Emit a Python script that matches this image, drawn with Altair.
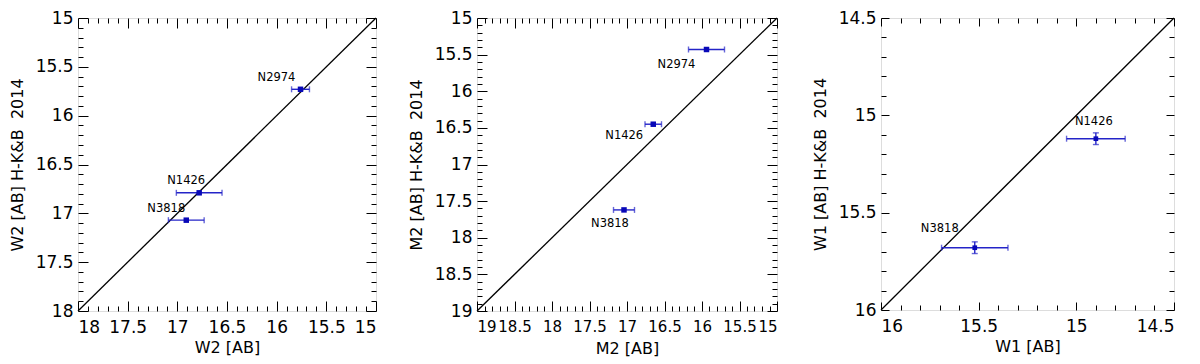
import altair as alt
import pandas as pd

# ---------------- data ----------------
# Panel 1: W2
w2_names = ["N2974", "N1426", "N3818"]
w2_x = [15.76, 16.78, 16.91]
w2_xerr = [0.09, 0.23, 0.18]
w2_y = [15.73, 16.79, 17.07]
w2_yerr = [0.0, 0.0, 0.0]
w2_domain = [15.0, 18.0]
w2_major = [15, 15.5, 16, 16.5, 17, 17.5, 18]

# Panel 2: M2
m2_names = ["N2974", "N1426", "N3818"]
m2_x = [15.94, 16.65, 17.04]
m2_xerr = [0.24, 0.11, 0.14]
m2_y = [15.43, 16.45, 17.62]
m2_yerr = [0.0, 0.0, 0.0]
m2_domain = [15.0, 19.0]
m2_major = [15, 15.5, 16, 16.5, 17, 17.5, 18, 18.5, 19]

# Panel 3: W1
w1_names = ["N1426", "N3818"]
w1_x = [14.90, 15.52]
w1_xerr = [0.15, 0.17]
w1_y = [15.12, 15.68]
w1_yerr = [0.03, 0.03]
w1_domain = [14.5, 16.0]
w1_major = [14.5, 15, 15.5, 16]

FONT = "DejaVu Sans"
BAR = "#2424c8"
PT = "#0808b8"


def minors_for(domain, major):
    lo, hi = domain
    n = int(round((hi - lo) / 0.1))
    vals = [round(lo + 0.1 * i, 1) for i in range(n + 1)]
    return [v for v in vals if v not in major]


def ax(orient, values, length, labels=False, title="", lsize=17):
    kw = dict(orient=orient, values=values, tickSize=length, offset=-length,
              domain=False, grid=False, ticks=True, tickColor="black",
              tickWidth=1, labels=labels, title=title)
    if labels:
        kw.update(format="~g", labelFont=FONT, labelFontSize=lsize,
                  labelColor="black", labelOverlap=False,
                  labelPadding=8 if orient == "bottom" else 5,
                  titleFont=FONT, titleFontSize=16, titleFontWeight="normal",
                  titleColor="black",
                  titlePadding=(4 + 17 - lsize) if orient == "bottom" else 10)
    return alt.Axis(**kw)


def panel(names, xs, xerrs, ys, yerrs, domain, major, width, height,
          xtitle, ytitle, maj_len, min_len, offsets, msize, yerr_bars, xlsize):
    df = pd.DataFrame({"name": names, "x": xs, "y": ys})
    df["xlo"] = [a - b for a, b in zip(xs, xerrs)]
    df["xhi"] = [a + b for a, b in zip(xs, xerrs)]
    df["ylo"] = [a - b for a, b in zip(ys, yerrs)]
    df["yhi"] = [a + b for a, b in zip(ys, yerrs)]
    line_df = pd.DataFrame({"x": [domain[0], domain[1]], "y": [domain[0], domain[1]]})
    minor = minors_for(domain, major)

    xs_ = alt.Scale(domain=domain, reverse=True, nice=False, zero=False)
    ys_ = alt.Scale(domain=domain, reverse=True, nice=False, zero=False)

    def X(f, axis):
        return alt.X(f, type="quantitative", scale=xs_, axis=axis)

    def Y(f, axis):
        return alt.Y(f, type="quantitative", scale=ys_, axis=axis)

    line = alt.Chart(line_df).mark_line(color="black", strokeWidth=1.3).encode(
        x=X("x", ax("bottom", major, maj_len, True, xtitle, xlsize)),
        y=Y("y", ax("left", major, maj_len, True, ytitle)),
    )
    xbar = alt.Chart(df).mark_rule(color=BAR, strokeWidth=1.4).encode(
        x=X("xlo", ax("bottom", minor, min_len)),
        x2="xhi",
        y=Y("y", ax("left", minor, min_len)),
    )
    cap_lo = alt.Chart(df).mark_tick(orient="vertical", size=6, thickness=1.4, color=BAR).encode(
        x=X("xlo", ax("top", major, maj_len)),
        y=Y("y", ax("right", major, maj_len)),
    )
    cap_hi = alt.Chart(df).mark_tick(orient="vertical", size=6, thickness=1.4, color=BAR).encode(
        x=X("xhi", ax("top", minor, min_len)),
        y=Y("y", ax("right", minor, min_len)),
    )
    pts = alt.Chart(df).mark_square(size=msize, color=PT, opacity=1).encode(
        x=X("x", None), y=Y("y", None)
    )
    layers = [line, xbar, cap_lo, cap_hi]
    if yerr_bars:
        layers.append(alt.Chart(df).mark_rule(color=BAR, strokeWidth=1.4).encode(
            x=X("x", None), y=Y("ylo", None), y2="yhi"))
        for f in ["ylo", "yhi"]:
            layers.append(alt.Chart(df).mark_tick(orient="horizontal", size=6, thickness=1.4, color=BAR).encode(
                x=X("x", None), y=Y(f, None)))
    layers.append(pts)
    for nm in names:
        dx, dy = offsets[nm]
        layers.append(
            alt.Chart(df).transform_filter(alt.datum.name == nm)
            .mark_text(font=FONT, fontSize=11.5, color="black", dx=dx, dy=dy)
            .encode(x=X("x", None), y=Y("y", None), text="name:N")
        )
    return alt.layer(*layers).resolve_axis(x="independent", y="independent").properties(
        width=width, height=height)


p1 = panel(w2_names, w2_x, w2_xerr, w2_y, w2_yerr, w2_domain, w2_major, 298, 293,
           "W2 [AB]", "W2 [AB] H-K&B\u00a0 2014", 10, 5,
           {"N2974": (-24, -11), "N1426": (-13, -12), "N3818": (-20, -11)}, 30, False, 17)
p2 = panel(m2_names, m2_x, m2_xerr, m2_y, m2_yerr, m2_domain, m2_major, 300, 293,
           "M2 [AB]", "M2 [AB] H-K&B\u00a0 2014", 10, 5,
           {"N2974": (-30, 16), "N1426": (-29, 12), "N3818": (-14, 14)}, 30, False, 15)
p3 = panel(w1_names, w1_x, w1_xerr, w1_y, w1_yerr, w1_domain, w1_major, 293, 292,
           "W1 [AB]", "W1 [AB] H-K&B\u00a0 2014", 8, 5,
           {"N1426": (-2, -17), "N3818": (-35, -19)}, 22, True, 17)

chart = alt.hconcat(
    alt.hconcat(p1, p2, spacing=27), p3, spacing=30
).properties(padding=0).configure_view(
    stroke="black", strokeWidth=1.2
).configure(background="white")

chart.save("out.html", embed_options={"renderer": "svg", "actions": False})
